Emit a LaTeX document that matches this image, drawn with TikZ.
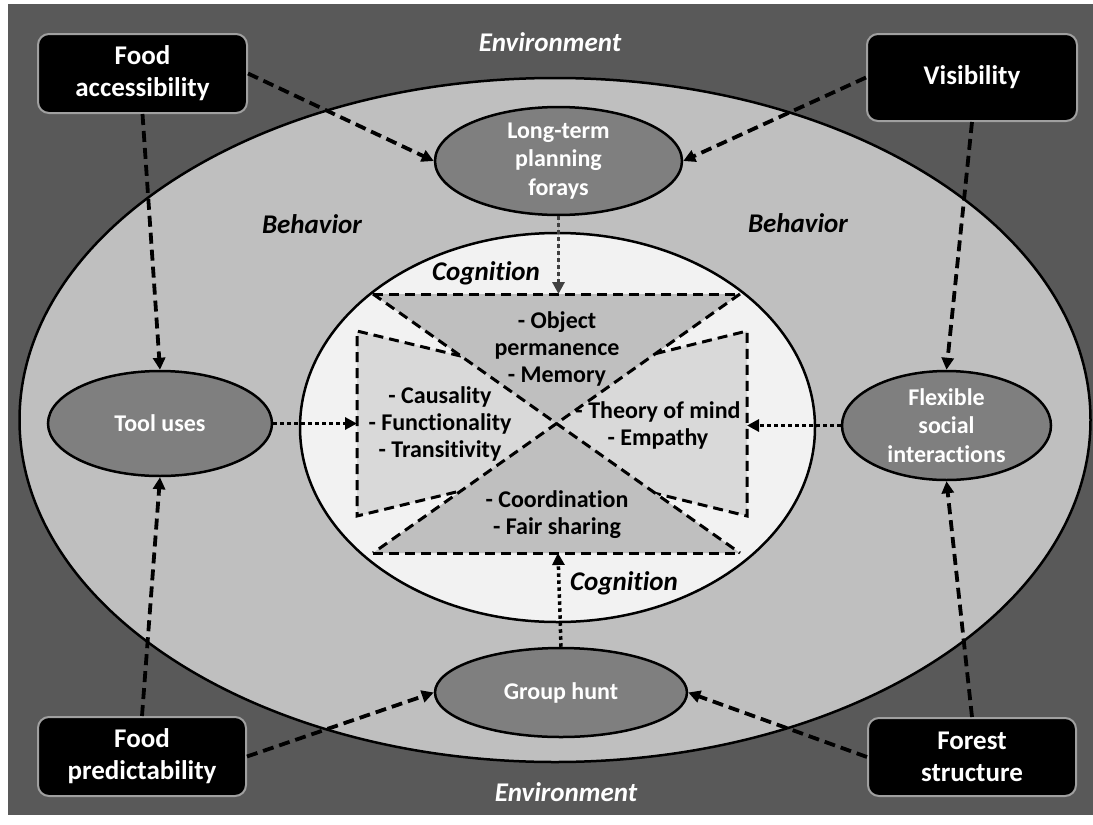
\documentclass[tikz,border=0pt]{standalone}
\usepackage{fontspec}
\setmainfont{Carlito}[Ligatures=NoCommon]
\usetikzlibrary{shapes.geometric,arrows.meta,calc}
\definecolor{envbg}{HTML}{595959}
\definecolor{behav}{HTML}{BFBFBF}
\definecolor{cogn}{HTML}{F2F2F2}
\definecolor{ellgray}{HTML}{7F7F7F}
\definecolor{tridark}{HTML}{BFBFBF}
\definecolor{trilight}{HTML}{D9D9D9}
\definecolor{boxgray}{HTML}{A0A0A0}
\definecolor{dotgray}{HTML}{404040}
\tikzset{
  envbox/.style={draw=boxgray, line width=2pt, fill=black, rounded corners=11pt, text=white,
    font=\fontsize{27}{32}\selectfont\bfseries, align=center, inner sep=0pt},
  behnode/.style={ellipse, draw=black, line width=2.5pt, fill=ellgray, text=white,
    font=\fontsize{24}{28.5}\selectfont\bfseries, align=center, inner sep=0pt},
  coglist/.style={font=\fontsize{24}{27}\selectfont\bfseries, align=center, inner sep=0pt},
  lbl/.style={font=\fontsize{27}{32}\selectfont\bfseries\itshape, inner sep=0pt},
  dasharrow/.style={line width=3.8pt, dash pattern=on 11pt off 6pt, -{Triangle[length=12pt,width=12pt]}},
  dotarrow/.style={line width=3.5pt, dash pattern=on 3.5pt off 3.5pt, -{Triangle[length=12pt,width=12pt]}},
  tridash/.style={line width=3pt, dash pattern=on 10pt off 6pt},
}
\begin{document}
\begin{tikzpicture}[x=1pt,y=-1pt]
\useasboundingbox (0,0) rectangle (1093,825);
\fill[white] (0,0) rectangle (1093,825);
\fill[envbg] (8,4) rectangle (1093,815);
% behaviour and cognition ellipses
\draw[line width=2.5pt, fill=behav] (555,420) ellipse [x radius=535.5pt, y radius=342pt];
\draw[line width=2.5pt, fill=cogn] (557.5,427.5) ellipse [x radius=257.5pt, y radius=194.5pt];
% hourglass geometry
\coordinate (T1) at (373,294);
\coordinate (T2) at (740,294);
\coordinate (B1) at (373,553);
\coordinate (B2) at (740,553);
\coordinate (C) at (intersection of T1--B2 and T2--B1);
\coordinate (LT) at (357,331);
\coordinate (LB) at (357,516);
\coordinate (LA) at (740,423.5);
\coordinate (RT) at (747,331);
\coordinate (RB) at (747,516);
\coordinate (RA) at (373,423.5);
\coordinate (LTi) at (intersection of LT--LA and T1--B2);
\coordinate (LBi) at (intersection of LB--LA and B1--T2);
\coordinate (RTi) at (intersection of RT--RA and T2--B1);
\coordinate (RBi) at (intersection of RB--RA and B2--T1);
\coordinate (Lmid) at (357,423.5);
\coordinate (Rmid) at (747,425.5);
\coordinate (Tmid) at (558.5,294);
\coordinate (Bmid) at (558,553);
\fill[trilight] (LT) -- (LTi) -- (C) -- (LBi) -- (LB) -- cycle;
\fill[trilight] (RT) -- (RTi) -- (C) -- (RBi) -- (RB) -- cycle;
\draw[tridash] (LTi) -- (LT) -- (LB) -- (LBi);
\draw[tridash] (RTi) -- (RT) -- (RB) -- (RBi);
\fill[tridark] (T1) -- (T2) -- (C) -- cycle;
\fill[tridark] (B1) -- (B2) -- (C) -- cycle;
\draw[tridash] (T1) -- (T2);
\draw[tridash] (B1) -- (B2);
\draw[tridash] (T1) -- (B2);
\draw[tridash] (T2) -- (B1);
% cognition texts
\node[coglist] (obj) at (557,349) {- Object\\permanence\\- Memory};
\node[coglist] (cau) at (440,424) {- Causality\\- Functionality\\- Transitivity};
\node[coglist] (tom) at (658,425) {- Theory of mind\\- Empathy};
\node[coglist] (coo) at (557,515) {- Coordination\\- Fair sharing};
% labels
\node[lbl, text=white] (envtop) at (550,42) {Environment};
\node[lbl, text=white] (envbot) at (566,792) {Environment};
\node[lbl] (behl) at (312,224) {Behavior};
\node[lbl] (behr) at (798,223) {Behavior};
\node[lbl] (cogt) at (486,273) {Cognition};
\node[lbl] (cogb) at (624,583) {Cognition};
% behaviour nodes
\node[behnode, minimum width=247pt, minimum height=96pt] (lt) at (558.5,161) {Long-term\\planning\\forays};
\node[behnode, minimum width=252pt, minimum height=89pt] (gh) at (561,692.5) {Group hunt};
\node[behnode, minimum width=224pt, minimum height=105pt] (tool) at (160,423.5) {Tool uses};
\node[behnode, minimum width=209pt, minimum height=109pt] (flex) at (946.5,425.5) {Flexible\\social\\interactions};
% environment boxes
\node[envbox, minimum width=209pt, minimum height=79pt] (fa) at (142.5,73.5) {Food\\accessibility};
\node[envbox, minimum width=210pt, minimum height=87pt] (vis) at (972,77.5) {Visibility};
\node[envbox, minimum width=208pt, minimum height=79pt] (fp) at (142,756.5) {Food\\predictability};
\node[envbox, minimum width=208pt, minimum height=78pt] (fs) at (972,757) {Forest\\structure};
% connectors
\draw[dasharrow] (fa.east) -- (lt.west);
\draw[dasharrow] (vis.west) -- (lt.east);
\draw[dasharrow] (fa.south) -- (tool.north);
\draw[dasharrow] (vis.south) -- (flex.north);
\draw[dasharrow] (fp.north) -- (tool.south);
\draw[dasharrow] (fp.east) -- (gh.west);
\draw[dasharrow] (fs.west) -- (gh.east);
\draw[dasharrow] (fs.north) -- (flex.south);
\draw[dotarrow] (tool.east) -- (Lmid);
\draw[dotarrow] (flex.west) -- (Rmid);
\draw[dotarrow, draw=dotgray, fill=dotgray] (lt.south) -- (Tmid);
\draw[dotarrow] (gh.north) -- (Bmid);
\end{tikzpicture}
\end{document}
